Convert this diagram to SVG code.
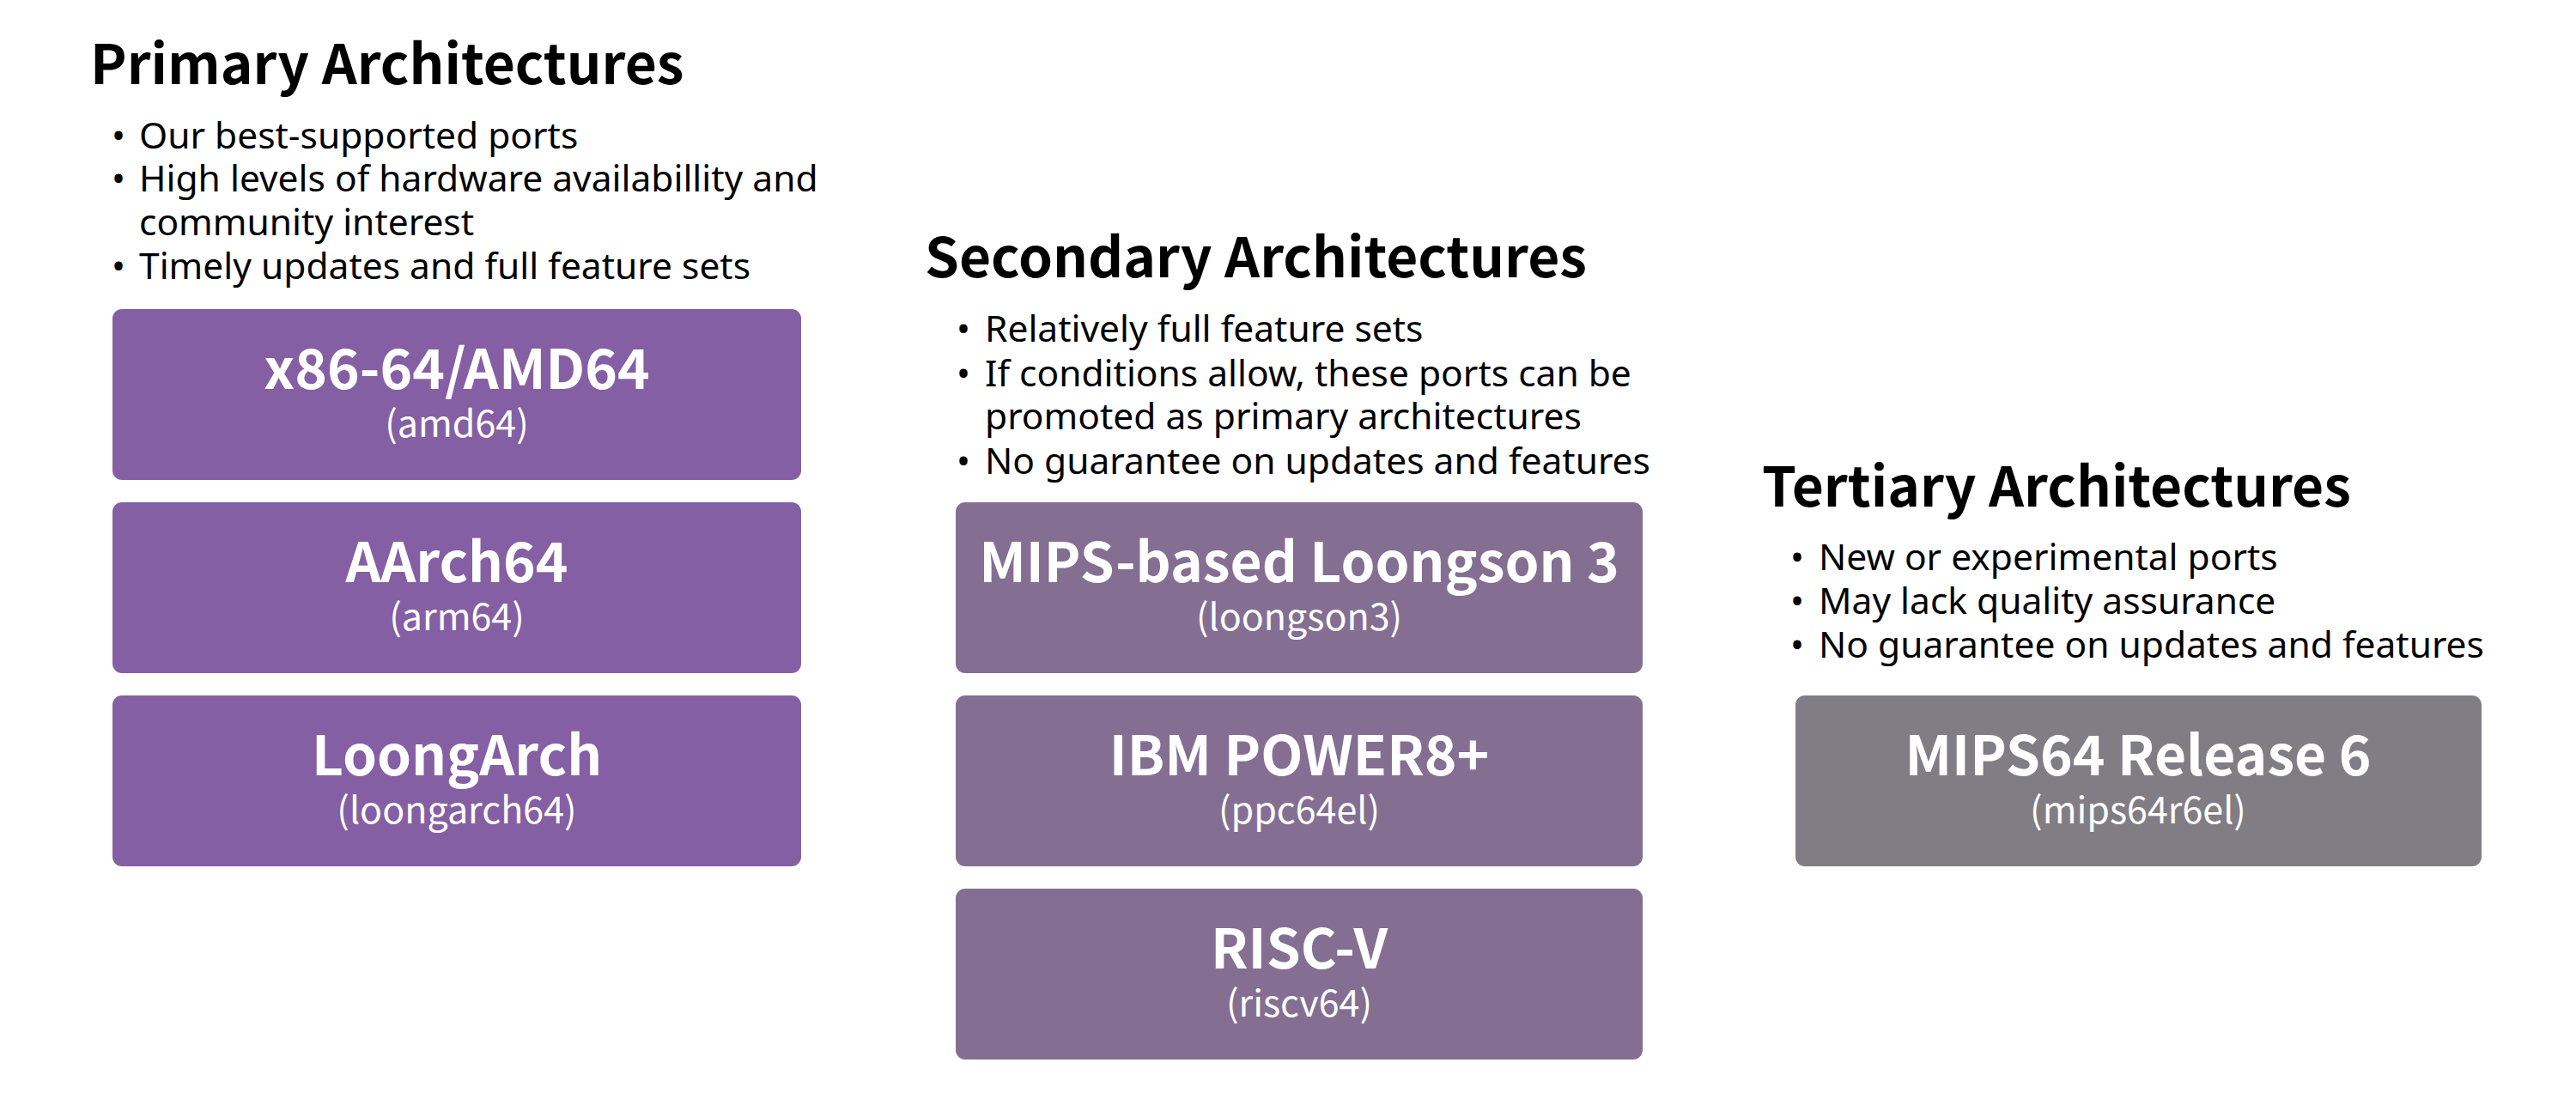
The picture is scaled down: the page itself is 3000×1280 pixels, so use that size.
<svg xmlns="http://www.w3.org/2000/svg" width="3000" height="1280" viewBox="0 0 3000 1280">
<style>
  .h { font-family: "Noto Sans CJK SC", "Noto Sans", sans-serif; font-weight: 700; font-size: 64px; fill: #000; }
  .b { font-family: "Noto Sans", "Liberation Sans", sans-serif; font-size: 42.5px; fill: #000; }
  .dot { font-family: "Noto Sans", "Liberation Sans", sans-serif; font-size: 42.5px; fill: #000; text-anchor: middle; }
  .nt { font-family: "Noto Sans CJK SC", "Noto Sans", sans-serif; font-weight: 700; font-size: 64px; fill: #fff; text-anchor: middle; }
  .ns { font-weight: 400; font-size: 43px; }
  .p1 { fill: #855FA3; }
  .p2 { fill: #846F93; }
  .p3 { fill: #807E84; }
</style>
<rect width="3000" height="1280" fill="#fff"/>

<g id="primary-header">
  <text class="h" x="105" y="98">Primary Architectures</text>
  <text class="dot" x="138" y="173">•</text>
  <text class="b" x="162" y="173">Our best-supported ports</text>
  <text class="dot" x="138" y="223">•</text>
  <text class="b" x="162" y="223">High levels of hardware availabillity and</text>
  <text class="b" x="162" y="274">community interest</text>
  <text class="dot" x="138" y="325">•</text>
  <text class="b" x="162" y="325">Timely updates and full feature sets</text>
</g>

<g id="node-amd64">
  <rect class="p1" x="131" y="360" width="802" height="199" rx="11"/>
  <text class="nt" x="532" y="453">x86-64/AMD64<tspan class="ns" x="532" dy="56">(amd64)</tspan></text>
</g>
<g id="node-arm64">
  <rect class="p1" x="131" y="585" width="802" height="199" rx="11"/>
  <text class="nt" x="532" y="678">AArch64<tspan class="ns" x="532" dy="56">(arm64)</tspan></text>
</g>
<g id="node-loongarch64">
  <rect class="p1" x="131" y="810" width="802" height="199" rx="11"/>
  <text class="nt" x="532" y="903">LoongArch<tspan class="ns" x="532" dy="56">(loongarch64)</tspan></text>
</g>

<g id="secondary-header">
  <text class="h" x="1077" y="323">Secondary Architectures</text>
  <text class="dot" x="1122" y="398">•</text>
  <text class="b" x="1147" y="398">Relatively full feature sets</text>
  <text class="dot" x="1122" y="450">•</text>
  <text class="b" x="1147" y="450">If conditions allow, these ports can be</text>
  <text class="b" x="1147" y="500">promoted as primary architectures</text>
  <text class="dot" x="1122" y="552">•</text>
  <text class="b" x="1147" y="552">No guarantee on updates and features</text>
</g>

<g id="node-loongson3">
  <rect class="p2" x="1113" y="585" width="800" height="199" rx="11"/>
  <text class="nt" x="1513" y="678">MIPS-based Loongson 3<tspan class="ns" x="1513" dy="56">(loongson3)</tspan></text>
</g>
<g id="node-ppc64el">
  <rect class="p2" x="1113" y="810" width="800" height="199" rx="11"/>
  <text class="nt" x="1513" y="903">IBM POWER8+<tspan class="ns" x="1513" dy="56">(ppc64el)</tspan></text>
</g>
<g id="node-riscv64">
  <rect class="p2" x="1113" y="1035" width="800" height="199" rx="11"/>
  <text class="nt" x="1513" y="1128">RISC-V<tspan class="ns" x="1513" dy="56">(riscv64)</tspan></text>
</g>

<g id="tertiary-header">
  <text class="h" x="2052" y="590">Tertiary Architectures</text>
  <text class="dot" x="2093" y="664">•</text>
  <text class="b" x="2118" y="664">New or experimental ports</text>
  <text class="dot" x="2093" y="715">•</text>
  <text class="b" x="2118" y="715">May lack quality assurance</text>
  <text class="dot" x="2093" y="766">•</text>
  <text class="b" x="2118" y="766">No guarantee on updates and features</text>
</g>

<g id="node-mips64r6el">
  <rect class="p3" x="2091" y="810" width="799" height="199" rx="11"/>
  <text class="nt" x="2490" y="903">MIPS64 Release 6<tspan class="ns" x="2490" dy="56">(mips64r6el)</tspan></text>
</g>

<g id="connectors"></g>
</svg>
